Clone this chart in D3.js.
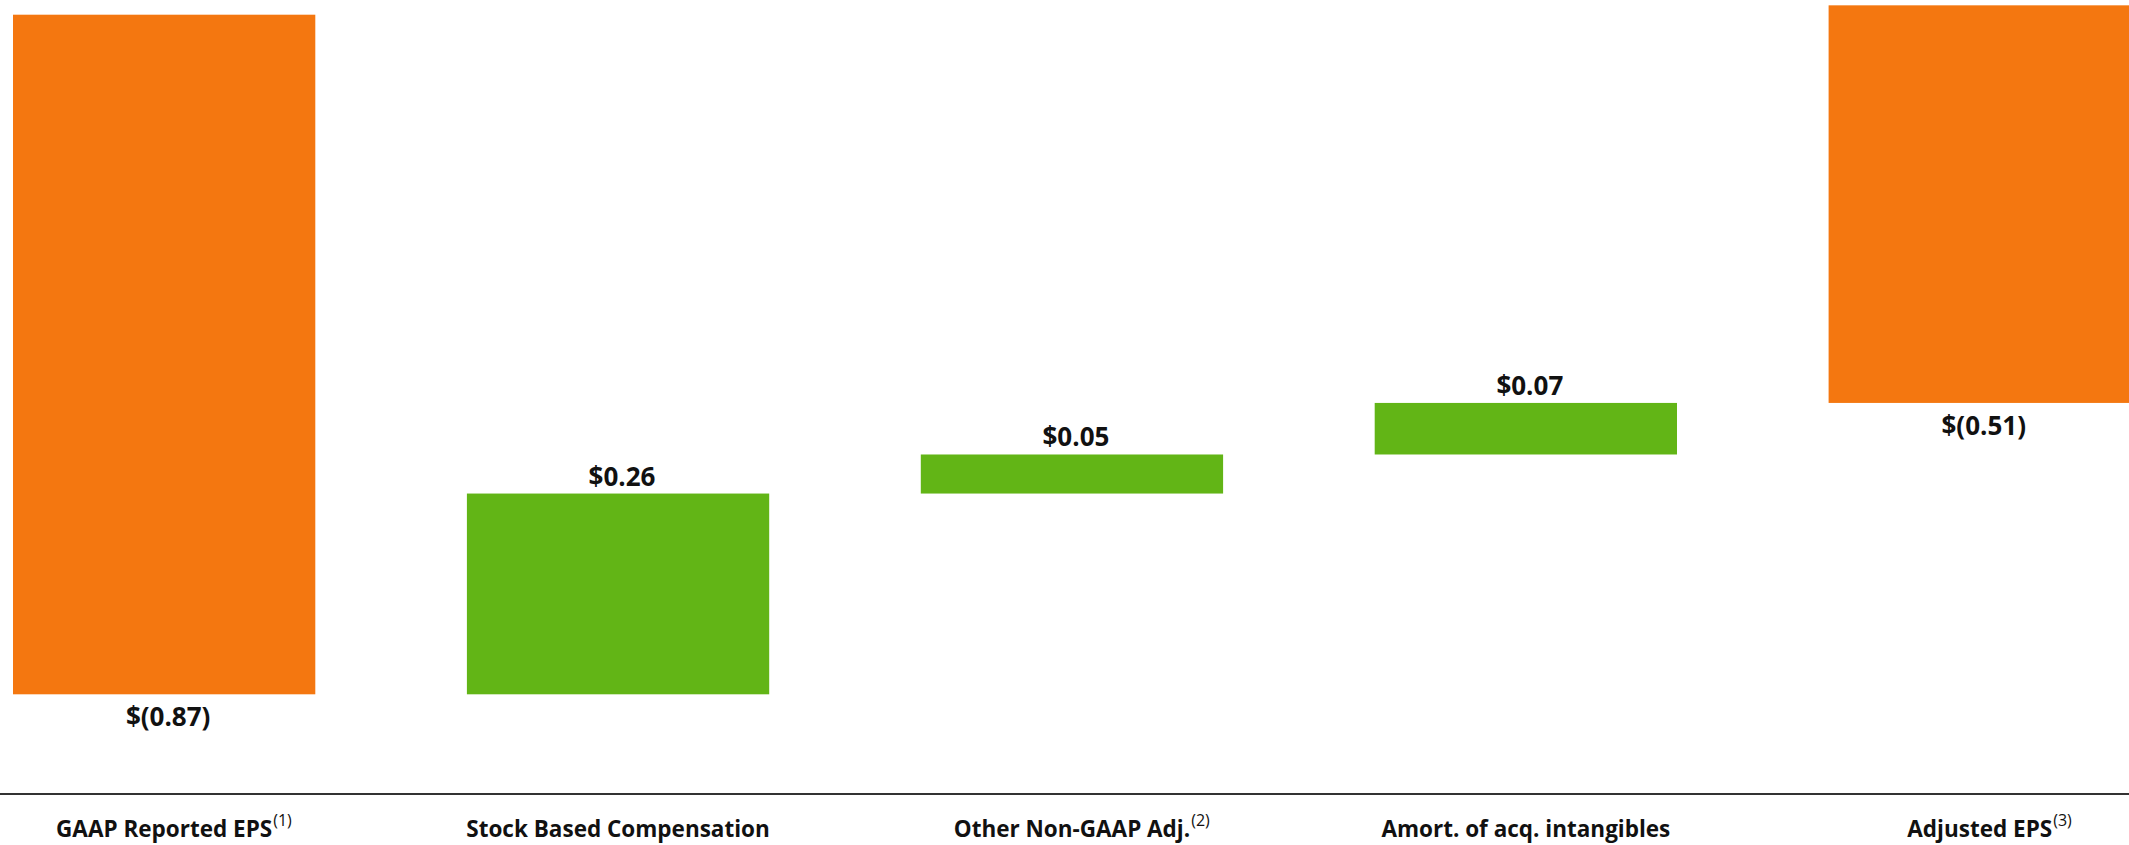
<!DOCTYPE html>
<html>
<head>
<meta charset="utf-8">
<script src="https://cdn.jsdelivr.net/npm/d3@7"></script>
<style>
  html, body { margin: 0; padding: 0; background: #fff; }
  svg { display: block; font-family: "Open Sans", "Noto Sans", sans-serif; }
</style>
</head>
<body>
<svg class="chart"></svg>
<script>
// categories and their footnote markers
var categories = ["GAAP Reported EPS", "Stock Based Compensation", "Other Non-GAAP Adj.", "Amort. of acq. intangibles", "Adjusted EPS"];
var footnotes = ["(1)", "", "(2)", "", "(3)"];
// labelled values
var values = [-0.87, 0.26, 0.05, 0.07, -0.51];
var valueLabels = ["$(0.87)", "$0.26", "$0.05", "$0.07", "$(0.51)"];
// bar extents (EPS) as drawn in the waterfall
var barLow  = [-0.87, -0.87, -0.613, -0.563, -0.497];
var barHigh = [0, -0.613, -0.563, -0.497, 0.012];
var barKind = ["total", "up", "up", "up", "total"];

var width = 2129, height = 845;
var colors = { total: "#f47710", up: "#62b516" };

var svg = d3.select(".chart")
    .attr("width", width)
    .attr("height", height);

var step = 453.9;
var x = d3.scaleBand()
    .domain(categories)
    .range([13 - 0.167 * step, 13 - 0.167 * step + 5 * step])
    .paddingInner(0.334)
    .paddingOuter(0.167);

var y = d3.scaleLinear()
    .domain([0, -0.87])
    .range([14.7, 694.3]);

var data = categories.map(function(c, i) {
  return { cat: c, note: footnotes[i], v: values[i], label: valueLabels[i],
           lo: barLow[i], hi: barHigh[i], kind: barKind[i] };
});

svg.selectAll(".bar")
    .data(data)
    .enter().append("rect")
    .attr("class", "bar")
    .attr("x", function(d) { return x(d.cat); })
    .attr("y", function(d) { return y(d.hi); })
    .attr("width", x.bandwidth())
    .attr("height", function(d) { return y(d.lo) - y(d.hi); })
    .attr("fill", function(d) { return colors[d.kind]; });

// value labels: above bar for positive, below for negative
svg.selectAll(".val")
    .data(data)
    .enter().append("text")
    .attr("class", "val")
    .attr("x", function(d) { return x(d.cat) + x.bandwidth() / 2 + 4; })
    .attr("y", function(d) { return d.v >= 0 ? y(d.hi) - 8 : y(d.lo) + 32; })
    .attr("text-anchor", "middle")
    .attr("font-size", "26px")
    .attr("font-weight", "bold")
    .attr("fill", "#111")
    .text(function(d) { return d.label; });

// baseline axis
svg.append("line")
    .attr("x1", 0).attr("x2", width)
    .attr("y1", 794).attr("y2", 794)
    .attr("stroke", "#333")
    .attr("stroke-width", 2);

// category labels with superscripts
var cat = svg.selectAll(".cat")
    .data(data)
    .enter().append("g")
    .attr("class", "cat");

cat.append("text")
    .attr("class", "main")
    .attr("y", 837)
    .attr("font-size", "22.5px")
    .attr("font-weight", "bold")
    .attr("fill", "#111")
    .text(function(d) { return d.cat; })
    .each(function(d) {
      var len = this.getComputedTextLength();
      var cx = x(d.cat) + x.bandwidth() / 2;
      d3.select(this).attr("x", cx - len / 2);
      d.supX = cx + len / 2 + 1;
    });

cat.append("text")
    .attr("x", function(d) { return d.supX; })
    .attr("y", 826)
    .attr("font-size", "16px")
    .attr("fill", "#111")
    .text(function(d) { return d.note; });
</script>
</body>
</html>
